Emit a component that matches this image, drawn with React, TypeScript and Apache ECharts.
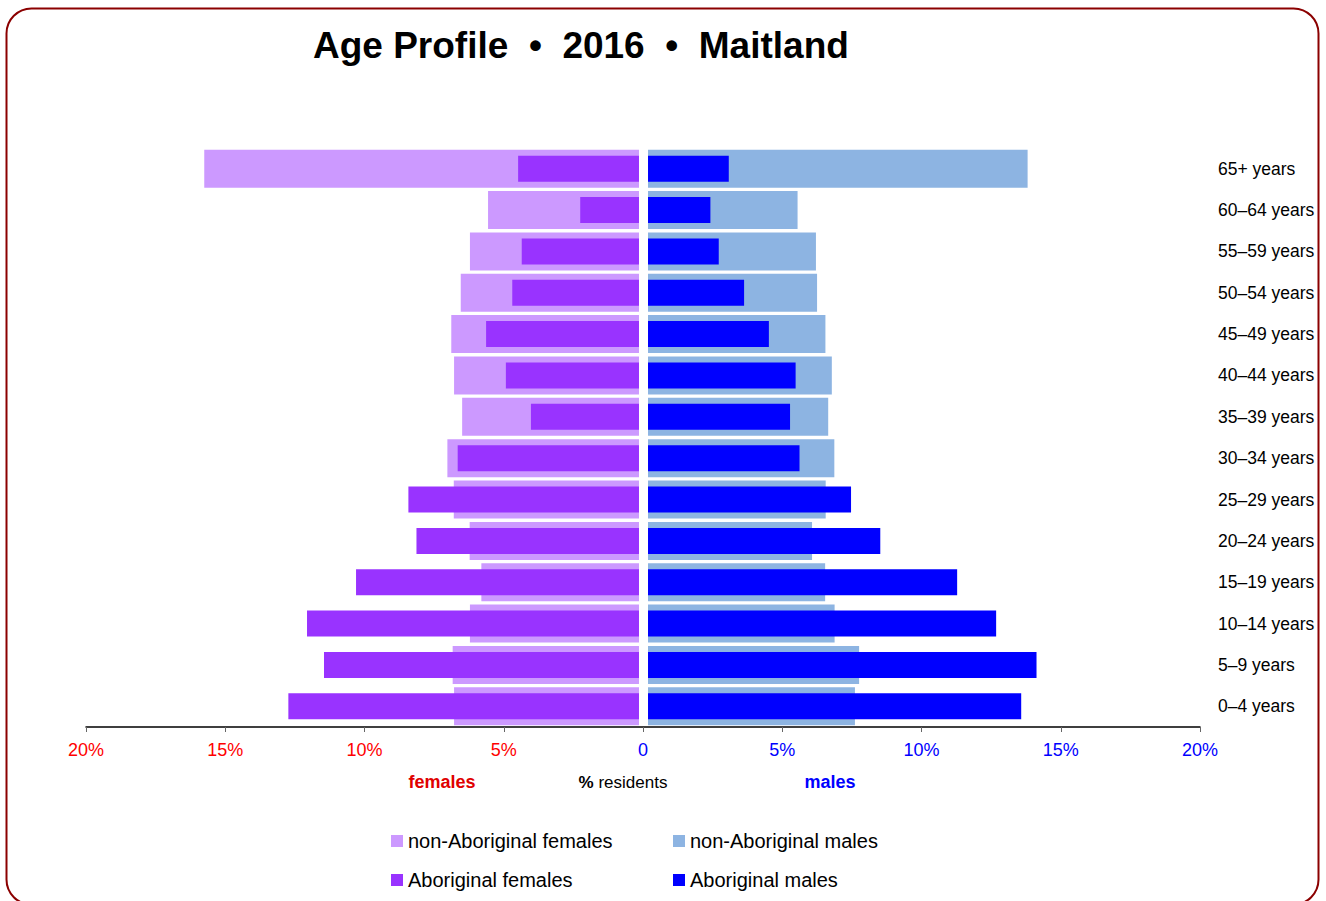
import React, { useEffect, useRef } from "react";
import * as echarts from "echarts";

const categories = [
  "0–4 years", "5–9 years", "10–14 years", "15–19 years", "20–24 years",
  "25–29 years", "30–34 years", "35–39 years", "40–44 years", "45–49 years",
  "50–54 years", "55–59 years", "60–64 years", "65+ years",
];
const nonAboriginalFemales = [6.64, 6.69, 6.07, 5.66, 6.08, 6.65, 6.88, 6.35, 6.64, 6.74, 6.40, 6.07, 5.42, 15.61];
const aboriginalFemales = [12.59, 11.31, 11.92, 10.16, 7.99, 8.28, 6.51, 3.88, 4.78, 5.49, 4.55, 4.21, 2.11, 4.34];
const nonAboriginalMales = [7.43, 7.58, 6.70, 6.36, 5.89, 6.38, 6.69, 6.47, 6.60, 6.37, 6.07, 6.03, 5.37, 13.63];
const aboriginalMales = [13.40, 13.95, 12.50, 11.10, 8.34, 7.29, 5.44, 5.10, 5.30, 4.34, 3.45, 2.54, 2.24, 2.90];

const SANS = "'Liberation Sans', Arial, Helvetica, sans-serif";
const C_NAF = "#CC99FF";
const C_AF = "#9933FF";
const C_NAM = "#8DB4E2";
const C_AM = "#0000FF";
const GAP_F = 0.144;
const GAP_M = 0.18;

export default function App() {
  const ref = useRef<HTMLDivElement>(null);
  useEffect(() => {
    document.body.style.margin = "0";
    const chart = echarts.init(ref.current!, null, { renderer: "svg" });
    const gapF = categories.map(() => -GAP_F);
    const gapM = categories.map(() => GAP_M);
    const spacer = (stack: string, yAxisIndex: number, data: number[]) => ({
      type: "bar", stack, yAxisIndex, data, silent: true,
      itemStyle: { color: "transparent" }, barWidth: yAxisIndex === 0 ? 38 : 26,
    });
    const legendItem = (name: string, left: number, top: number) => ({
      data: [name], left, top, padding: 0, icon: "rect", itemWidth: 12, itemHeight: 12,
      selectedMode: false,
      textStyle: { fontFamily: SANS, fontSize: 20, color: "#000" },
    });
    chart.setOption({
      animation: false,
      grid: { left: 86, right: 126, top: 148, bottom: 174, outerBoundsMode: "none", containLabel: false },
      legend: [
        legendItem("non-Aboriginal females", 391, 831),
        legendItem("non-Aboriginal males", 673, 831),
        legendItem("Aboriginal females", 391, 870),
        legendItem("Aboriginal males", 673, 870),
      ],
      xAxis: {
        type: "value", min: -20, max: 20, interval: 5,
        axisLine: { show: true, lineStyle: { color: "#000", width: 1.5 } },
        axisTick: { show: true, length: 5, lineStyle: { color: "#666" } },
        splitLine: { show: false },
        axisLabel: {
          margin: 14, fontFamily: SANS, fontSize: 18,
          formatter: (v: number) => (v === 0 ? "0" : Math.abs(v) + "%"),
          color: (v: any) => (Number(v) < 0 ? "#FF0000" : "#0000FF"),
        },
      },
      yAxis: [
        {
          type: "category", data: categories, position: "right",
          axisLine: { show: false }, axisTick: { show: false },
          axisLabel: { margin: 18, align: "left", fontFamily: SANS, fontSize: 17.5, color: "#000" },
        },
        { type: "category", data: categories, show: false },
      ],
      series: [
        spacer("n", 0, gapF),
        { name: "non-Aboriginal females", type: "bar", stack: "n", yAxisIndex: 0, barWidth: 38,
          data: nonAboriginalFemales.map((v) => -v), itemStyle: { color: C_NAF } },
        spacer("n", 0, gapM),
        { name: "non-Aboriginal males", type: "bar", stack: "n", yAxisIndex: 0, barWidth: 38,
          data: nonAboriginalMales, itemStyle: { color: C_NAM } },
        spacer("a", 1, gapF),
        { name: "Aboriginal females", type: "bar", stack: "a", yAxisIndex: 1, barWidth: 26,
          data: aboriginalFemales.map((v) => -v), itemStyle: { color: C_AF } },
        spacer("a", 1, gapM),
        { name: "Aboriginal males", type: "bar", stack: "a", yAxisIndex: 1, barWidth: 26,
          data: aboriginalMales, itemStyle: { color: C_AM } },
      ],
      graphic: [
        {
          type: "rect", z: -1, silent: true,
          shape: { x: 6.5, y: 8.5, width: 1312, height: 896, r: 25 },
          style: { fill: "none", stroke: "#8B0000", lineWidth: 2 },
        },
        {
          type: "text", x: 313, y: 45,
          style: {
            text: "Age Profile  •  2016  •  Maitland", fontFamily: SANS, fontWeight: "bold",
            fontSize: 37, fill: "#000", align: "left", verticalAlign: "middle",
          },
        },
        {
          type: "text", x: 442, y: 782,
          style: { text: "females", fontFamily: SANS, fontWeight: "bold", fontSize: 18,
            fill: "#E00000", align: "center", verticalAlign: "middle" },
        },
        {
          type: "text", x: 623, y: 782,
          style: {
            text: "{b|%} residents", fontFamily: SANS, fontSize: 17, fill: "#000",
            align: "center", verticalAlign: "middle",
            rich: { b: { fontFamily: SANS, fontSize: 17, fontWeight: "bold", fill: "#000" } },
          },
        },
        {
          type: "text", x: 830, y: 782,
          style: { text: "males", fontFamily: SANS, fontWeight: "bold", fontSize: 18,
            fill: "#0000FF", align: "center", verticalAlign: "middle" },
        },
      ],
    });
    return () => chart.dispose();
  }, []);
  return <div ref={ref} style={{ width: 1326, height: 901 }} />;
}
